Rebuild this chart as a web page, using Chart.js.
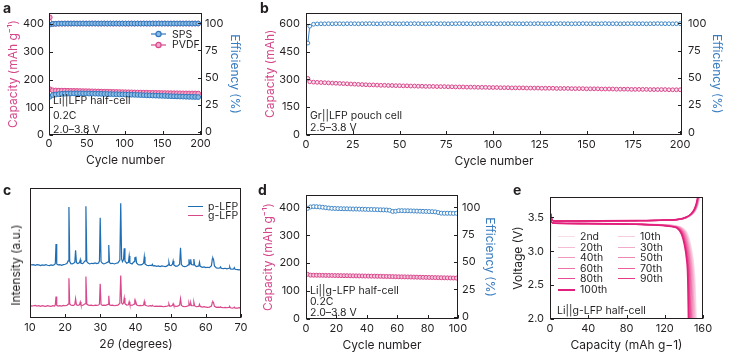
<!DOCTYPE html>
<html>
<head>
<meta charset="utf-8">
<script src="https://cdn.jsdelivr.net/npm/chart.js@4.4.1/dist/chart.umd.min.js"></script>
<style>
html,body{margin:0;padding:0;background:#fff;}
#fig{position:relative;width:731px;height:356px;overflow:hidden;background:#fff;font-family:Inter,"Open Sans",sans-serif;color:#231f20;}
#fig canvas{position:absolute;}
.txt{position:absolute;font-size:10.5px;line-height:13px;white-space:nowrap;}
.pl{position:absolute;font-weight:700;font-size:14px;line-height:15px;}
.leg{position:absolute;display:flex;align-items:center;font-size:10.5px;line-height:11px;height:11px;white-space:nowrap;}
.leg .ln{display:inline-block;height:0;margin-right:5px;}
.ttl{position:absolute;font-size:12px;line-height:14px;white-space:nowrap;transform:translate(-50%,-50%);}
</style>
</head>
<body>
<div id="fig">
  <canvas id="cA" width="250" height="175" style="left:0;top:0"></canvas>
  <canvas id="cB" width="491" height="175" style="left:240px;top:0"></canvas>
  <canvas id="cC" width="260" height="181" style="left:0;top:175px"></canvas>
  <canvas id="cD" width="240" height="181" style="left:260px;top:175px"></canvas>
  <canvas id="cE" width="231" height="181" style="left:500px;top:175px"></canvas>

  <div class="pl" style="left:3px;top:0px">a</div>
  <div class="pl" style="left:260px;top:0px">b</div>
  <div class="pl" style="left:3px;top:182px">c</div>
  <div class="pl" style="left:258px;top:182px">d</div>
  <div class="pl" style="left:513px;top:182px">e</div>

  <!-- panel a notes -->
  <div class="txt" style="left:53px;top:93.5px">Li||LFP half-cell</div>
  <div class="txt" style="left:53px;top:109px">0.2C</div>
  <div class="txt" style="left:53px;top:123px">2.0–3.8 V</div>
  <div class="leg" style="left:151px;top:28.5px"><svg width="15" height="8"><line x1="0" y1="4" x2="15" y2="4" stroke="#2e77bd" stroke-width="1.2"/><circle cx="7.5" cy="4" r="2.6" fill="#8dbbe3" stroke="#2e77bd" stroke-width="1.2"/></svg><span style="margin-left:6px">SPS</span></div>
  <div class="leg" style="left:151px;top:39px"><svg width="15" height="8"><line x1="0" y1="4" x2="15" y2="4" stroke="#d9478b" stroke-width="1.2"/><circle cx="7.5" cy="4" r="2.6" fill="#f2a9c9" stroke="#d9478b" stroke-width="1.2"/></svg><span style="margin-left:6px">PVDF</span></div>

  <!-- panel b notes -->
  <div class="txt" style="left:310px;top:108.5px">Gr||LFP pouch cell</div>
  <div class="txt" style="left:310px;top:120.5px">2.5–3.8 V</div>

  <!-- panel c -->
  <div class="leg" style="left:188px;top:200.5px"><span class="ln" style="width:15px;border-top:1.5px solid #1f6db3"></span>p-LFP</div>
  <div class="leg" style="left:188px;top:210px"><span class="ln" style="width:15px;border-top:1.5px solid #d9478b"></span>g-LFP</div>
  <div class="ttl" style="left:15.7px;top:265px;transform:translate(-50%,-50%) rotate(-90deg)">Intensity (a.u.)</div>
  <div class="ttl" style="left:136px;top:344.3px">2<i>θ</i> (degrees)</div>

  <!-- panel d notes -->
  <div class="txt" style="left:310px;top:283.5px">Li||g-LFP half-cell</div>
  <div class="txt" style="left:310px;top:294.5px">0.2C</div>
  <div class="txt" style="left:310px;top:305.5px">2.0–3.8 V</div>

  <!-- panel e notes -->
  <div class="txt" style="left:557px;top:303.5px">Li||g-LFP half-cell</div>
  <div id="legE"></div>
</div>
<script>
// ---------------- DATA ----------------
// tick labels
const ticksCycA = [0,50,100,150,200];
const ticksCapA = [0,100,200,300,400];
const ticksEff  = [0,25,50,75,100];
const ticksCycB = [0,25,50,75,100,125,150,175,200];
const ticksCapB = [0,150,300,450,600];
const ticksTheta = [10,20,30,40,50,60,70];
const ticksCycD = [0,20,40,60,80,100];
const ticksCapD = [0,100,200,300,400];
const ticksCapE = [0,40,80,120,160];
const ticksVolt = [2.0,2.5,3.0,3.5];

// Panel a: Li||LFP half-cell, cycles 1,5,9,...,197
const cycA = Array.from({length:50}, (_, i) => 1 + 4 * i);
const spsCapA = [138,144,146,147.5,148.5,149,149.5,150,150,150,
  150,149.8,149.6,149.4,149.2,149,148.7,148.4,148.1,147.8,
  147.5,147.2,146.9,146.6,146.3,146,145.6,145.2,144.8,144.4,
  144,143.6,143.2,142.8,142.4,142,141.6,141.2,140.8,140.4,
  140,139.6,139.2,138.8,138.4,138,137.7,137.4,137.1,136.8];
const pvdfCapA = [165,161,160.5,160,160,159.8,159.5,159.2,159,158.8,
  158.5,158.2,158,157.7,157.4,157.1,156.8,156.5,156.2,156,
  155.7,155.4,155.1,154.8,154.5,154.2,154,153.7,153.4,153.1,
  152.9,152.6,152.4,152.1,151.9,151.7,151.5,151.3,151.1,150.9,
  150.7,150.5,150.4,150.2,150.1,150,149.8,149.7,149.6,149.5];
const spsEffA = [98.8,99.5,99.6,99.7,99.7,99.8,99.7,99.8,99.8,99.7,
  99.8,99.8,99.7,99.8,99.8,99.8,99.7,99.8,99.8,99.7,
  99.8,99.8,99.8,99.7,99.8,99.8,99.7,99.8,99.8,99.8,
  99.7,99.8,99.8,99.7,99.8,99.8,99.8,99.7,99.8,99.8,
  99.7,99.8,99.8,99.8,99.7,99.8,99.8,99.7,99.8,99.8];
const pvdfEffA = [105.5,99.4,99.6,99.7,99.7,99.7,99.8,99.7,99.8,99.8,
  99.7,99.8,99.8,99.7,99.8,99.8,99.8,99.7,99.8,99.8,
  99.8,99.7,99.8,99.8,99.8,99.7,99.8,99.8,99.7,99.8,
  99.8,99.8,99.7,99.8,99.8,99.7,99.8,99.8,99.8,99.7,
  99.8,99.8,99.7,99.8,99.8,99.8,99.7,99.8,99.8,99.8];

// Panel b: Gr||LFP pouch cell, cycles 1,2,4,...,200
const cycB = [1].concat(Array.from({length:100}, (_, i) => 2 + 2 * i));
const capB = [305,287,285,284,283,282,281,280,279,278,
  277,276,275,274,273,272,271,270,270,269,
  268,268,267,267,266,266,265,265,264,264,
  263,263,262,262,262,261,261,261,260,260,
  259,259,259,258,258,258,257,257,257,256,
  256,256,255,255,255,254,254,254,254,253,
  253,253,253,252,252,252,252,251,251,251,
  251,250,250,250,250,249,249,249,249,248,
  248,248,248,247,247,247,247,246,246,246,
  246,246,245,245,245,245,245,244,244,244,
  244];
const effB = [82,97.5,99.3,99.6,99.7,99.7,99.8,99.7,99.8,99.8,
  99.7,99.8,99.8,99.8,99.7,99.8,99.8,99.9,99.8,99.7,
  99.8,99.8,99.9,99.8,99.8,99.7,99.8,99.8,99.8,99.9,
  99.8,99.8,99.7,99.8,99.9,99.8,99.8,99.8,99.7,99.8,
  99.8,99.9,99.8,99.8,99.8,99.7,99.8,99.8,99.9,99.8,
  99.8,99.7,99.8,99.8,99.8,99.9,99.8,99.8,99.7,99.8,
  99.8,99.8,99.9,99.8,99.7,99.8,99.8,99.8,99.9,99.8,
  99.8,99.7,99.8,99.8,99.9,99.8,99.8,99.8,99.7,99.8,
  99.9,99.8,99.8,99.8,99.7,99.8,99.8,99.9,99.8,99.8,
  99.8,99.7,99.8,99.8,99.9,99.8,99.8,99.8,99.7,99.8,
  99.8];

// Panel c: XRD (2theta, intensity a.u.)
const twoTheta = [10,10.5,11,11.5,12,12.5,13,13.5,14,14.5,
  15,15.5,16,16.5,17,17.2,17.4,17.6,18,18.5,
  19,19.5,20,20.5,20.85,21.07,21.3,21.6,22,22.4,
  22.75,22.96,23.2,23.6,24.1,24.3,24.5,25,25.65,25.9,
  26.15,26.6,27,27.5,28,28.5,29,29.5,29.75,29.96,
  30.2,30.6,31,31.5,32.2,32.4,32.6,33,33.5,34,
  34.5,35,35.55,35.8,36.05,36.3,36.6,36.8,37,37.5,
  38,38.2,38.4,39,39.6,39.8,39.95,40.1,40.3,40.8,
  41.3,41.8,42.3,42.5,42.7,43.2,43.7,44.2,44.6,44.8,
  45,45.5,46,46.5,47,47.5,48,48.5,49,49.3,
  49.5,49.7,50.1,50.5,50.7,50.9,51.5,52,52.55,52.8,
  53.05,53.5,54,54.5,55,55.2,55.4,55.5,55.7,55.9,
  56.4,56.6,56.8,57.3,58,58.2,58.4,59,59.5,60,
  60.5,61,61.6,61.85,62,62.2,62.45,63,63.5,64,
  64.2,64.4,65,65.5,66,66.6,66.8,67,67.5,67.9,
  68.1,68.3,69,69.5,70];
const pLFP = [162,160,161,159,161,160,158,160,159,161,
  159,158,160,159,161,165,223,163,160,161,
  159,161,162,164,172,335,170,164,163,165,
  168,204,167,164,167,176,165,164,172,337,
  170,165,163,165,164,166,164,166,172,302,
  170,165,163,165,169,220,167,164,165,163,
  165,166,175,346,178,170,176,210,172,165,
  168,187,166,163,170,183,175,185,166,161,
  160,161,165,185,163,159,158,159,158,162,
  157,158,156,157,155,157,156,155,157,160,
  168,159,158,162,172,160,156,157,162,212,
  161,156,155,156,160,177,163,164,177,161,
  160,178,160,155,157,168,156,153,154,152,
  153,152,158,178,181,176,157,151,150,151,
  154,150,149,150,148,150,154,148,147,148,
  152,147,146,145,146];
const gLFP = [38,36,37,38,36,37,35,37,36,35,
  37,36,35,37,36,40,65,38,36,37,
  36,38,37,38,42,120,43,39,38,38,
  41,58,40,38,40,48,39,38,43,125,
  42,39,38,39,37,39,38,39,42,103,
  41,38,39,38,41,67,40,38,39,37,
  38,39,44,128,46,42,45,60,43,39,
  40,49,40,38,42,50,45,48,40,37,
  38,37,39,50,39,37,36,37,36,38,
  36,35,36,35,36,35,34,35,36,37,
  42,36,36,38,43,37,35,36,39,58,
  38,35,34,35,37,46,39,39,45,37,
  37,47,37,34,35,41,35,33,34,33,
  32,33,36,47,49,46,35,32,33,32,
  34,32,31,32,31,32,34,31,30,31,
  33,30,30,31,30];

// Panel d: Li||g-LFP half-cell, cycles 1,3,...,99
const cycD = Array.from({length:50}, (_, i) => 1 + 2 * i);
const capD = [160,157,156.8,156.6,156.5,156.3,156.1,156,155.8,155.6,
  155.5,155.3,155.1,155,154.8,154.6,154.4,154.2,154,153.8,
  153.6,153.4,153.2,153,152.8,152.5,152.3,152.1,151.8,151.5,
  151.3,151,150.8,150.5,150.3,150,149.8,149.5,149.3,149,
  148.8,148.5,148.3,148,147.8,147.5,147.3,147,146.8,146.5];
const effD = [99.0,100.3,100.6,100.5,100.3,100.0,99.6,99.3,99.0,98.9,
  98.8,98.7,98.6,98.6,98.5,98.4,98.4,98.3,98.2,98.1,
  98.0,98.0,97.9,97.8,97.7,97.6,97.5,97.2,96.2,96.4,
  96.9,96.9,96.8,96.8,96.7,96.6,96.5,96.4,96.3,96.2,
  96.1,96.0,95.8,95.2,94.6,94.5,94.5,94.5,94.4,94.5];

// Panel e: voltage profiles [capacity, voltage]
const cyclesE = ['2nd','10th','20th','30th','40th','50th','60th','70th','80th','90th','100th'];
const chg2   = [[0,2.52],[0.3,3.3],[0.8,3.55],[2,3.46],[6,3.445],[40,3.447],[90,3.452],[120,3.46],[136,3.472],[144,3.5],[149.5,3.55],[153,3.62],[155,3.7],[156.5,3.8]];
const chg10  = [[0,2.52],[0.3,3.3],[0.8,3.55],[2,3.46],[6,3.445],[40,3.447],[90,3.452],[120,3.46],[135.8,3.472],[143.8,3.5],[149.3,3.55],[152.8,3.62],[154.8,3.7],[156.3,3.8]];
const chg20  = [[0,2.52],[0.3,3.3],[0.8,3.55],[2,3.46],[6,3.445],[40,3.447],[90,3.452],[120,3.46],[135.5,3.472],[143.5,3.5],[149.1,3.55],[152.6,3.62],[154.6,3.7],[156.1,3.8]];
const chg30  = [[0,2.52],[0.3,3.3],[0.8,3.55],[2,3.46],[6,3.445],[40,3.447],[90,3.452],[120,3.46],[135.3,3.471],[143.3,3.5],[148.9,3.55],[152.4,3.62],[154.4,3.7],[155.9,3.8]];
const chg40  = [[0,2.51],[0.3,3.3],[0.8,3.55],[2,3.46],[6,3.445],[40,3.447],[90,3.452],[120,3.46],[135.1,3.471],[143.1,3.5],[148.7,3.55],[152.2,3.62],[154.2,3.7],[155.7,3.8]];
const chg50  = [[0,2.51],[0.3,3.3],[0.8,3.55],[2,3.46],[6,3.445],[40,3.447],[90,3.452],[120,3.46],[135,3.471],[143,3.5],[148.5,3.55],[152,3.62],[154,3.7],[155.5,3.8]];
const chg60  = [[0,2.51],[0.3,3.3],[0.8,3.55],[2,3.46],[6,3.445],[40,3.447],[90,3.452],[120,3.46],[134.8,3.471],[142.8,3.5],[148.3,3.55],[151.8,3.62],[153.8,3.7],[155.3,3.8]];
const chg70  = [[0,2.5],[0.3,3.3],[0.8,3.55],[2,3.46],[6,3.445],[40,3.447],[90,3.452],[120,3.46],[134.6,3.47],[142.6,3.5],[148.1,3.55],[151.6,3.62],[153.6,3.7],[155.1,3.8]];
const chg80  = [[0,2.5],[0.3,3.3],[0.8,3.55],[2,3.46],[6,3.445],[40,3.447],[90,3.452],[120,3.46],[134.4,3.47],[142.4,3.5],[147.9,3.55],[151.4,3.62],[153.4,3.7],[154.9,3.8]];
const chg90  = [[0,2.5],[0.3,3.3],[0.8,3.55],[2,3.46],[6,3.445],[40,3.447],[90,3.452],[120,3.46],[134.2,3.47],[142.2,3.5],[147.7,3.55],[151.2,3.62],[153.2,3.7],[154.7,3.8]];
const chg100 = [[0,2.5],[0.3,3.3],[0.8,3.55],[2,3.46],[6,3.445],[40,3.447],[90,3.452],[120,3.46],[134,3.47],[142,3.5],[147.5,3.55],[151,3.62],[153,3.7],[154.5,3.8]];
const dis2   = [[0,3.62],[0.6,3.5],[1.5,3.43],[5,3.415],[40,3.41],[90,3.4],[120,3.39],[132,3.375],[139,3.34],[144,3.25],[147,3.1],[149.5,2.9],[151.5,2.6],[153,2.0]];
const dis10  = [[0,3.62],[0.6,3.5],[1.5,3.43],[5,3.415],[40,3.41],[90,3.4],[120,3.39],[131.4,3.374],[138.3,3.34],[143.3,3.25],[146.3,3.1],[148.8,2.9],[150.8,2.6],[152.3,2.0]];
const dis20  = [[0,3.62],[0.6,3.5],[1.5,3.43],[5,3.415],[40,3.41],[90,3.4],[120,3.389],[130.8,3.372],[137.6,3.34],[142.6,3.25],[145.6,3.1],[148.1,2.9],[150,2.6],[151.4,2.0]];
const dis30  = [[0,3.62],[0.6,3.5],[1.5,3.43],[5,3.415],[40,3.41],[90,3.4],[119.5,3.388],[130.2,3.37],[137,3.34],[142,3.25],[145,3.1],[147.4,2.9],[149.3,2.6],[150.6,2.0]];
const dis40  = [[0,3.62],[0.6,3.5],[1.5,3.43],[5,3.414],[40,3.409],[90,3.4],[119,3.388],[129.6,3.37],[136.4,3.34],[141.3,3.25],[144.3,3.1],[146.7,2.9],[148.5,2.6],[149.7,2.0]];
const dis50  = [[0,3.62],[0.6,3.5],[1.5,3.43],[5,3.414],[40,3.409],[90,3.399],[118,3.387],[129,3.369],[135.8,3.34],[140.7,3.25],[143.6,3.1],[146,2.9],[147.7,2.6],[148.9,2.0]];
const dis60  = [[0,3.62],[0.6,3.5],[1.5,3.43],[5,3.414],[40,3.409],[90,3.399],[117,3.386],[128.5,3.368],[135.2,3.34],[140.1,3.25],[143,3.1],[145.3,2.9],[147,2.6],[148,2.0]];
const dis70  = [[0,3.62],[0.6,3.5],[1.5,3.43],[5,3.413],[40,3.408],[90,3.398],[116,3.386],[128,3.367],[134.6,3.34],[139.4,3.25],[142.3,3.1],[144.6,2.9],[146.2,2.6],[147.2,2.0]];
const dis80  = [[0,3.62],[0.6,3.5],[1.5,3.43],[5,3.413],[40,3.408],[90,3.398],[115,3.385],[127.5,3.366],[134,3.34],[138.8,3.25],[141.7,3.1],[143.9,2.9],[145.5,2.6],[146.4,2.0]];
const dis90  = [[0,3.62],[0.6,3.5],[1.5,3.43],[5,3.412],[40,3.407],[90,3.397],[114,3.385],[127,3.365],[133.5,3.34],[138.2,3.25],[141.1,3.1],[143.3,2.9],[144.8,2.6],[145.6,2.0]];
const dis100 = [[0,3.62],[0.6,3.5],[1.5,3.43],[5,3.412],[40,3.407],[90,3.397],[113,3.384],[126.5,3.364],[133,3.34],[137.6,3.25],[140.5,3.1],[142.7,2.9],[144.1,2.6],[144.8,2.0]];
const chargeE = [chg2,chg10,chg20,chg30,chg40,chg50,chg60,chg70,chg80,chg90,chg100];
const dischargeE = [dis2,dis10,dis20,dis30,dis40,dis50,dis60,dis70,dis80,dis90,dis100];

// ---------------- STYLE ----------------
const FONT = 'Inter';
const INK = '#231f20';
const PINK = '#d9478b', PINK_FILL = '#f2a9c9';
const BLUE = '#2e77bd', BLUE_FILL = '#8dbbe3';
const TITLE_PINK = '#d6468a', TITLE_BLUE = '#3a7dc0';
const XRD_BLUE = '#1f6db3', XRD_PINK = '#d9478b';
const colorsE = ['#f8dde9','#f6cde0','#f4bcd5','#f2aaca','#f098bf','#ee85b3','#ec72a8','#ea5f9d','#e84c92','#e63887','#e21f7a'];

const frame = {
  id: 'frame',
  afterDatasetsDraw(chart, args, opts) {
    const ctx = chart.ctx, a = chart.chartArea;
    const L = Math.round(a.left) + 0.5, R = Math.round(a.right) - 0.5;
    const T = Math.round(a.top) + 0.5, B = Math.round(a.bottom) - 0.5;
    ctx.save();
    ctx.strokeStyle = INK; ctx.lineWidth = 1;
    ctx.strokeRect(L, T, R - L, B - T);
    const len = 3.5;
    ctx.beginPath();
    (opts.ticks || []).forEach(id => {
      const s = chart.scales[id];
      s.ticks.forEach(t => {
        const p = Math.round(s.getPixelForValue(t.value)) + 0.5;
        if (s.position === 'bottom') { ctx.moveTo(p, B); ctx.lineTo(p, B - len); }
        else if (s.position === 'left') { ctx.moveTo(L, p); ctx.lineTo(L + len, p); }
        else { ctx.moveTo(R, p); ctx.lineTo(R - len, p); }
      });
    });
    ctx.stroke();
    ctx.restore();
  }
};

function axis(o) {
  const horiz = o.pos === 'bottom';
  return {
    type: 'linear', position: o.pos, min: o.min, max: o.max,
    grid: { display: false, drawTicks: false, tickLength: 0 }, border: { display: false },
    afterBuildTicks: s => { s.ticks = o.ticks.map(v => ({ value: v })); },
    afterFit: s => { if (horiz) s.height = o.size; else s.width = o.size; },
    ticks: {
      display: o.showTicks !== false, autoSkip: false, maxRotation: 0, minRotation: 0, includeBounds: false,
      padding: o.tickPad, color: INK, font: { family: FONT, size: o.fontSize || 11 },
      callback: o.fmt || (v => String(v))
    },
    title: {
      display: !!o.title, text: o.title || '', color: o.titleColor || INK,
      font: { family: FONT, size: o.titleSize || 12 },
      padding: horiz ? { top: 0, bottom: o.titlePad || 0 } : { top: o.titlePad || 0, bottom: 0 }
    }
  };
}
function pts(xs, ys) { return xs.map((x, i) => ({ x: x, y: ys[i] })); }
function pairs(arr) { return arr.map(p => ({ x: p[0], y: p[1] })); }
function baseOpts(scales, padding, tickIds) {
  return {
    responsive: false, animation: false, devicePixelRatio: 1, events: [],
    layout: { padding: padding },
    plugins: { legend: { display: false }, tooltip: { enabled: false }, frame: { ticks: tickIds } },
    scales: scales
  };
}
function markerSet(label, data, axisId, line, fill, r, order) {
  return { label: label, data: data, yAxisID: axisId, borderColor: line, backgroundColor: fill,
    pointBackgroundColor: fill, pointBorderColor: line, pointRadius: r, pointBorderWidth: 1,
    borderWidth: 1, showLine: true, order: order };
}

// ---------------- PANEL A ----------------
new Chart(document.getElementById('cA'), {
  type: 'line',
  data: { datasets: [
    markerSet('SPS', pts(cycA, spsCapA), 'y', BLUE, BLUE_FILL, 2.4, 0),
    markerSet('SPS efficiency', pts(cycA, spsEffA), 'y1', BLUE, BLUE_FILL, 2.4, 0),
    markerSet('PVDF', pts(cycA, pvdfCapA), 'y', PINK, PINK_FILL, 2.4, 1),
    markerSet('PVDF efficiency', pts(cycA, pvdfEffA), 'y1', PINK, PINK_FILL, 2.4, 1)
  ]},
  options: baseOpts({
    x: axis({pos:'bottom', min:0, max:202, ticks:ticksCycA, size:40, tickPad:2, title:'Cycle number', titlePad:7.8}),
    y: axis({pos:'left', min:0, max:440, ticks:ticksCapA, size:49, tickPad:5, title:'Capacity (mAh g⁻¹)', titleColor:TITLE_PINK, titlePad:6}),
    y1: axis({pos:'right', min:-3, max:109.5, ticks:ticksEff, size:48, tickPad:3, title:'Efficiency (%)', titleColor:TITLE_BLUE, titlePad:7.8})
  }, {top:13, left:0, right:0, bottom:0}, ['x','y','y1']),
  plugins: [frame]
});

// ---------------- PANEL B ----------------
new Chart(document.getElementById('cB'), {
  type: 'line',
  data: { datasets: [
    markerSet('Efficiency', pts(cycB, effB), 'y1', '#3f86c8', '#ffffff', 1.9, 0),
    markerSet('Capacity', pts(cycB, capB), 'y', PINK, '#fbe3ee', 1.9, 1)
  ]},
  options: baseOpts({
    x: axis({pos:'bottom', min:0, max:201, ticks:ticksCycB, size:40, tickPad:3, title:'Cycle number', titlePad:6.1}),
    y: axis({pos:'left', min:0, max:660, ticks:ticksCapB, size:66, tickPad:6, title:'Capacity (mAh)', titleColor:TITLE_PINK, titlePad:22.8}),
    y1: axis({pos:'right', min:-2.5, max:110, ticks:ticksEff, size:49, tickPad:6, title:'Efficiency (%)', titleColor:TITLE_BLUE, titlePad:7.1})
  }, {top:12, left:0, right:0, bottom:0}, ['x','y','y1']),
  plugins: [frame]
});

// ---------------- PANEL C ----------------
new Chart(document.getElementById('cC'), {
  type: 'line',
  data: { datasets: [
    { label:'p-LFP', data: pts(twoTheta, pLFP), borderColor: XRD_BLUE, borderWidth: 1.2, pointRadius: 0, tension: 0 },
    { label:'g-LFP', data: pts(twoTheta, gLFP), borderColor: XRD_PINK, borderWidth: 1.2, pointRadius: 0, tension: 0 }
  ]},
  options: baseOpts({
    x: axis({pos:'bottom', min:10, max:70, ticks:ticksTheta, size:38, tickPad:3.5}),
    y: axis({pos:'left', min:0, max:392, ticks:[], size:30, tickPad:0, showTicks:false})
  }, {top:13, left:0, right:19, bottom:0}, ['x']),
  plugins: [frame]
});

// ---------------- PANEL D ----------------
new Chart(document.getElementById('cD'), {
  type: 'line',
  data: { datasets: [
    markerSet('Efficiency', pts(cycD, effD), 'y1', '#3f86c8', '#ffffff', 2, 0),
    markerSet('Capacity', pts(cycD, capD), 'y', PINK, '#f7c6dc', 2, 1)
  ]},
  options: baseOpts({
    x: axis({pos:'bottom', min:0, max:100, ticks:ticksCycD, size:37, tickPad:3, title:'Cycle number', titlePad:3.8}),
    y: axis({pos:'left', min:0, max:444, ticks:ticksCapD, size:46, tickPad:6, title:'Capacity (mAh g⁻¹)', titleColor:TITLE_PINK, titlePad:1.1}),
    y1: axis({pos:'right', min:-2, max:111.2, ticks:ticksEff, size:42, tickPad:4, title:'Efficiency (%)', titleColor:TITLE_BLUE, titlePad:2.8})
  }, {top:20, left:0, right:0, bottom:0}, ['x','y','y1']),
  plugins: [frame]
});

// ---------------- PANEL E ----------------
const dsE = [];
cyclesE.forEach((name, k) => {
  const common = { borderColor: colorsE[k], borderWidth: k === 10 ? 1.6 : 1.2, pointRadius: 0,
    cubicInterpolationMode: 'monotone', order: 20 - k };
  dsE.push(Object.assign({ label: name + ' charge', data: pairs(chargeE[k]) }, common));
  dsE.push(Object.assign({ label: name + ' discharge', data: pairs(dischargeE[k]) }, common));
});
new Chart(document.getElementById('cE'), {
  type: 'line',
  data: { datasets: dsE },
  options: baseOpts({
    x: axis({pos:'bottom', min:0, max:160, ticks:ticksCapE, size:37, tickPad:3, title:'Capacity (mAh g−1)', titlePad:3.1}),
    y: axis({pos:'left', min:2.0, max:3.8, ticks:ticksVolt, size:50, tickPad:6, title:'Voltage (V)', titlePad:11.1, fmt: v => Number(v).toFixed(1)})
  }, {top:22, left:0, right:28, bottom:0}, ['x','y']),
  plugins: [frame]
});

// legend for panel e
(function(){
  const host = document.getElementById('legE');
  const col1 = [0,2,4,6,8,10], col2 = [1,3,5,7,9];
  const rows = [236.7, 247, 257.5, 268, 278.5, 289.5];
  function add(k, x, yc) {
    const d = document.createElement('div');
    d.className = 'leg';
    d.style.left = x + 'px';
    d.style.top = (yc - 5.5) + 'px';
    const ln = document.createElement('span');
    ln.className = 'ln';
    ln.style.width = '17px';
    ln.style.borderTop = (k === 10 ? 2.2 : 1.4) + 'px solid ' + colorsE[k];
    d.appendChild(ln);
    d.appendChild(document.createTextNode(cyclesE[k]));
    host.appendChild(d);
  }
  col1.forEach((k, i) => add(k, 558, rows[i]));
  col2.forEach((k, i) => add(k, 618, rows[i]));
})();
</script>
</body>
</html>
